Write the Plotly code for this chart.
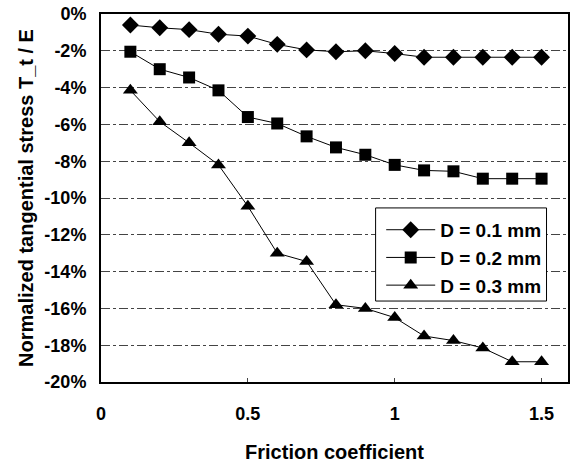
import plotly.graph_objects as go

friction = [0.1, 0.2, 0.3, 0.4, 0.5, 0.6, 0.7, 0.8, 0.9, 1.0, 1.1, 1.2, 1.3, 1.4, 1.5]
d01 = [-0.6, -0.75, -0.85, -1.1, -1.2, -1.65, -1.95, -2.05, -2.0, -2.15, -2.35, -2.35, -2.35, -2.35, -2.35]
d02 = [-2.05, -3.0, -3.45, -4.15, -5.6, -5.95, -6.65, -7.25, -7.65, -8.2, -8.5, -8.55, -8.95, -8.95, -8.95]
d03 = [-4.15, -5.85, -7.0, -8.2, -10.45, -13.0, -13.45, -15.8, -16.0, -16.5, -17.5, -17.75, -18.15, -18.9, -18.9]
names = ["D = 0.1 mm", "D = 0.2 mm", "D = 0.3 mm"]
symbols = ["diamond", "square", "triangle-up"]
ytick_vals = [0, -2, -4, -6, -8, -10, -12, -14, -16, -18, -20]
ytick_text = [f"{v}%" for v in ytick_vals]
xtick_vals = [0, 0.5, 1, 1.5]
xtick_text = ["0", "0.5", "1", "1.5"]

FONT = "Liberation Sans"
fig = go.Figure()
for i, (ys, nm, sym) in enumerate(zip([d01, d02, d03], names, symbols)):
    fig.add_trace(go.Scatter(
        x=friction, y=ys, name=nm, mode="lines+markers",
        legendgroup=f"g{i}",
        line=dict(color="black", width=1),
        marker=dict(symbol=sym, size=13 if sym != "square" else 12, color="black"),
    ))

# legend frame drawn as a shape
fig.add_shape(type="rect", xref="paper", yref="paper",
              x0=0.588, x1=0.954, y0=0.220, y1=0.473,
              line=dict(color="black", width=1), fillcolor="white", layer="above")

fig.update_layout(
    width=578, height=463,
    margin=dict(l=101, r=10, t=14, b=81, autoexpand=False),
    paper_bgcolor="white", plot_bgcolor="white",
    font=dict(family=FONT, size=18, color="black", weight="bold"),
    legend=dict(x=0.600, y=0.465, xanchor="left", yanchor="top",
                borderwidth=0, bgcolor="rgba(0,0,0,0)",
                font=dict(family=FONT, size=19, color="black", weight="bold"),
                tracegroupgap=0, itemwidth=49),
)
fig.update_xaxes(
    range=[0, 1.59], tickvals=xtick_vals, ticktext=xtick_text,
    showline=True, mirror=True, linecolor="black", linewidth=2,
    showgrid=False, zeroline=False, ticks="inside", ticklen=4,
    ticklabelstandoff=14, automargin=False,
    tickfont=dict(family=FONT, size=18, color="black", weight="bold"),
    title=dict(text="Friction coefficient", font=dict(family=FONT, size=20, weight="bold"), standoff=24),
)
fig.update_yaxes(
    range=[-20, 0], tickvals=ytick_vals, ticktext=ytick_text,
    showline=True, mirror=True, linecolor="black", linewidth=2,
    showgrid=True, gridcolor="#444", gridwidth=1, griddash="dashdot", zeroline=False,
    ticklabelstandoff=9, automargin=False,
    tickfont=dict(family=FONT, size=18, color="black", weight="bold"),
    title=dict(text="Normalized tangential stress T_t / E", font=dict(family=FONT, size=20, weight="bold"), standoff=5),
)
fig.write_html("out.html", config={"displayModeBar": False},
               post_script="document.body.style.margin='0px';")
